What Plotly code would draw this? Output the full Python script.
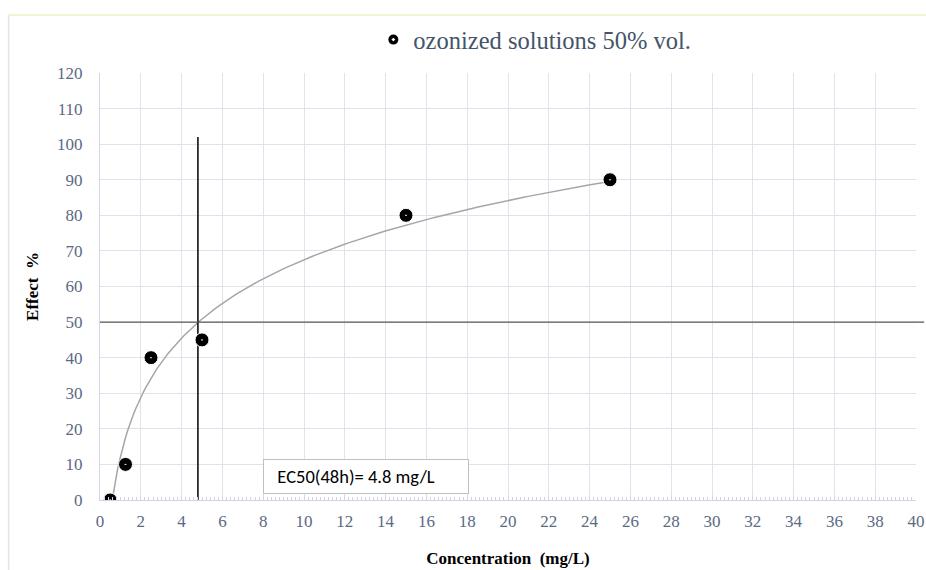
import numpy as np
import plotly.graph_objects as go

# Measured concentration-effect data
concentration = [0.5, 1.25, 2.5, 5, 15, 25]   # mg/L
effect = [0, 10, 40, 45, 80, 90]              # %
x_ticks = list(range(0, 41, 2))
y_ticks = list(range(0, 121, 10))
series_name = "ozonized solutions 50% vol."
ec50_label = "EC50(48h)= 4.8 mg/L"
ec50_value = 4.8
effect_level = 50

# Logarithmic trendline y = a*ln(x) + b fitted to the data
a, b = np.polyfit(np.log(concentration), effect, 1)
x_start = np.exp(-b / a)
xs = np.linspace(x_start, max(concentration), 300)
ys = a * np.log(xs) + b

serif = "Liberation Serif"
tick_font = dict(family=serif, size=17, color="#5a6a84")
title_font = dict(family=serif, size=17, color="#000000")
grid = "#dfe3ec"

fig = go.Figure()
fig.add_trace(go.Scatter(
    x=xs, y=ys, mode="lines", showlegend=False, hoverinfo="skip",
    line=dict(color="#a6a6a6", width=1.5),
))
fig.add_trace(go.Scatter(
    x=[ec50_value, ec50_value], y=[0, 102], mode="lines", showlegend=False,
    line=dict(color="#000000", width=1.5),
))
fig.add_trace(go.Scatter(
    x=concentration, y=effect, mode="markers", name=series_name,
    marker=dict(symbol="circle-dot", size=14, color="#000000",
                line=dict(color="#ffffff", width=1)),
))

# 50 % effect reference line
fig.add_shape(type="line", xref="paper", yref="y", x0=0, x1=1.01,
              y0=effect_level, y1=effect_level,
              line=dict(color="#595959", width=1.2))

# chart frame
fig.add_shape(type="line", xref="paper", yref="paper", x0=-0.112, x1=1.02,
              y0=1.136, y1=1.136, line=dict(color="#efefc8", width=1.5))
fig.add_shape(type="line", xref="paper", yref="paper", x0=-0.112, x1=-0.112,
              y0=1.136, y1=-0.2, line=dict(color="#e4e4e4", width=1.5))

fig.add_annotation(
    x=8.0, y=6.7, xref="x", yref="y", xanchor="left", yanchor="middle",
    text="&nbsp;&nbsp;" + ec50_label, showarrow=False,
    font=dict(family="Carlito", size=18.5, color="#000000"),
    bordercolor="#bfbfbf", borderwidth=1, borderpad=5, bgcolor="#ffffff",
    width=194, align="left",
)

fig.update_layout(
    width=926, height=570,
    margin=dict(l=100, r=10, t=73, b=70, autoexpand=False),
    paper_bgcolor="#ffffff", plot_bgcolor="#ffffff",
    font=dict(family=serif, color="#44546a"),
    showlegend=True,
    legend=dict(orientation="h", x=0.335, xanchor="left", y=1.078, yanchor="middle",
                font=dict(family=serif, size=24.5, color="#44546a"),
                itemsizing="constant", bgcolor="rgba(0,0,0,0)"),
    xaxis=dict(
        range=[0, 40], tickvals=x_ticks, ticktext=[str(v) for v in x_ticks],
        showgrid=True, gridcolor=grid, gridwidth=1,
        zeroline=False, showline=True, linecolor="#d0d6e2", linewidth=1,
        ticks="inside", ticklen=5, tickcolor="#d0d6e2",
        minor=dict(dtick=0.2, ticks="inside", ticklen=3, tickcolor="#d0d6e2", showgrid=False),
        tickfont=tick_font, ticklabelstandoff=6,
        title=dict(text="<b>Concentration  (mg/L)</b>", font=title_font, standoff=21),
    ),
    yaxis=dict(
        range=[0, 120], tickvals=y_ticks,
        showgrid=True, gridcolor=grid, gridwidth=1,
        zeroline=False, showline=True, linecolor="#d0d6e2", linewidth=1,
        ticks="", tickfont=tick_font, ticklabelstandoff=13,
        title=dict(text="<b>Effect  %</b>", font=title_font, standoff=14),
    ),
)

fig.write_html("out.html")
